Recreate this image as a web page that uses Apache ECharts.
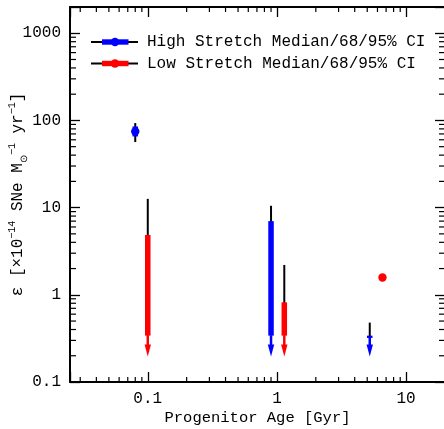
<!DOCTYPE html>
<html><head><meta charset="utf-8">
<script src="https://cdn.jsdelivr.net/npm/echarts@6/dist/echarts.min.js"></script>
<style>html,body{margin:0;padding:0;background:#fff}#c{width:444px;height:429px}</style>
</head><body><div id="c"></div>
<script>
// ---- axis tick labels / tick values ----
const xTickLabels = ['0.1', '1', '10'];
const yTickLabels = ['0.1', '1', '10', '100', '1000'];
const xMinorTicks = [0.03,0.04,0.05,0.06,0.07,0.08,0.09,0.2,0.3,0.4,0.5,0.6,0.7,0.8,0.9,2,3,4,5,6,7,8,9];
const yMinorTicks = [0.2,0.3,0.4,0.5,0.6,0.7,0.8,0.9,2,3,4,5,6,7,8,9,20,30,40,50,60,70,80,90,200,300,400,500,600,700,800,900];
const X_RANGE = [0.025, 20];
const Y_RANGE = [0.1, 2000];

// ---- High stretch (median / 68% / 95% CI; null lower bound = upper limit with arrow) ----
const highAge    = [0.08, 0.9, 5.23];
const highMedian = [74.8, null, null];
const highLo95   = [56.5, null, null];
const highHi95   = [93.3, 10.5, 0.48];
const highLo68   = [65.5, 0.34, 0.32];
const highHi68   = [85.3, 7.0, 0.34];
const highTip    = [null, 0.196, 0.196];

// ---- Low stretch ----
const lowAge    = [0.1, 1.14, 6.56];
const lowMedian = [null, null, 1.58];
const lowLo95   = [null, null, 1.54];
const lowHi95   = [12.6, 2.2, 1.62];
const lowLo68   = [0.34, 0.34, 1.56];
const lowHi68   = [4.85, 0.82, 1.60];
const lowTip    = [0.196, 0.196, null];

const FONT = 'Liberation Mono';
const BLUE = '#0000ff', RED = '#ff0000';

function makeRender(S, color) {
  return function (params, api) {
    const i = params.dataIndex;
    const a = S.age[i];
    const x = api.coord([a, S.hi95[i]])[0];
    const yOf = v => api.coord([a, v])[1];
    const ch = [];
    const bottom95 = S.lo95[i] != null ? S.lo95[i] : S.lo68[i];
    ch.push({type:'line', shape:{x1:x, y1:yOf(S.hi95[i]), x2:x, y2:yOf(bottom95)}, style:{stroke:'#000', lineWidth:2}});
    const y1 = yOf(S.hi68[i]), y2 = yOf(S.lo68[i]);
    ch.push({type:'rect', shape:{x:x-2.75, y:y1, width:5.5, height:Math.max(y2-y1, 2)}, style:{fill:color}});
    if (S.tip[i] != null) {
      const ty = yOf(S.tip[i]);
      const hl = 12;
      ch.push({type:'line', shape:{x1:x, y1:y2, x2:x, y2:ty-hl+1}, style:{stroke:color, lineWidth:2.5}});
      ch.push({type:'polygon', shape:{points:[[x-3.2, ty-hl],[x+3.2, ty-hl],[x, ty]]}, style:{fill:color}});
    }
    if (S.median[i] != null) {
      ch.push({type:'circle', shape:{cx:x, cy:yOf(S.median[i]), r:4.2}, style:{fill:color}});
    }
    return {type:'group', children: ch};
  };
}

const high = {age:highAge, median:highMedian, lo95:highLo95, hi95:highHi95, lo68:highLo68, hi68:highHi68, tip:highTip};
const low  = {age:lowAge, median:lowMedian, lo95:lowLo95, hi95:lowHi95, lo68:lowLo68, hi68:lowHi68, tip:lowTip};

function labelFor(list) {
  return function (v) {
    for (const s of list) {
      if (Math.abs(Math.log10(v) - Math.log10(parseFloat(s))) < 1e-6) return s;
    }
    return '';
  };
}

const axisCommon = {
  type: 'log', logBase: 10,
  axisLine: {show: true, lineStyle: {color: '#000', width: 2}},
  axisTick: {show: true, inside: true, length: 10, lineStyle: {color: '#000', width: 1.3}},
  splitLine: {show: false},
  minorTick: {show: false}
};

const chart = echarts.init(document.getElementById('c'), null, {renderer: 'canvas'});
chart.setOption({
  animation: false,
  backgroundColor: '#fff',
  grid: {left: 70, right: -1, top: 7, bottom: 47, containLabel: false, outerBoundsMode: 'none'},
  xAxis: [
    Object.assign({}, axisCommon, {
      position: 'bottom', min: X_RANGE[0], max: X_RANGE[1],
      axisLabel: {show: true, formatter: labelFor(xTickLabels), color: '#000', fontFamily: FONT, fontSize: 16, margin: 9},
      name: 'Progenitor Age [Gyr]', nameLocation: 'middle', nameGap: 28, nameMoveOverlap: false,
      nameTextStyle: {color: '#000', fontFamily: FONT, fontSize: 15.5}
    }),
    Object.assign({}, axisCommon, {
      position: 'top', min: X_RANGE[0], max: X_RANGE[1],
      axisLabel: {show: false}
    })
  ],
  yAxis: [
    Object.assign({}, axisCommon, {
      position: 'left', min: Y_RANGE[0], max: Y_RANGE[1],
      axisLabel: {show: true, formatter: labelFor(yTickLabels), color: '#000', fontFamily: FONT, fontSize: 16, margin: 9},
      name: '{b|ε [×10}{sup|−14}{b| SNe M}{sub|⊙}{sup|−1}{b| yr}{sup|−1}{b|]}',
      nameLocation: 'middle', nameGap: 41, nameMoveOverlap: false,
      nameTextStyle: {
        color: '#000', fontFamily: FONT, fontSize: 16,
        rich: {
          b: {fontFamily: FONT, fontSize: 16, color: '#000', lineHeight: 22, verticalAlign: 'middle'},
          sup: {fontFamily: FONT, fontSize: 10, color: '#000', lineHeight: 22, verticalAlign: 'top'},
          sub: {fontFamily: FONT, fontSize: 10, color: '#000', lineHeight: 22, verticalAlign: 'bottom'}
        }
      }
    }),
    Object.assign({}, axisCommon, {
      position: 'right', min: Y_RANGE[0], max: Y_RANGE[1],
      axisLabel: {show: false}
    })
  ],
  series: [
    {
      type: 'custom', xAxisIndex: 0, yAxisIndex: 0, clip: false, z: 1,
      data: xMinorTicks.map(v => [v, Y_RANGE[0]]),
      renderItem: function (params, api) {
        const v = xMinorTicks[params.dataIndex];
        const b = api.coord([v, Y_RANGE[0]]), t = api.coord([v, Y_RANGE[1]]);
        return {type: 'group', children: [
          {type:'line', shape:{x1:b[0], y1:b[1], x2:b[0], y2:b[1]-5}, style:{stroke:'#000', lineWidth:1.2}},
          {type:'line', shape:{x1:t[0], y1:t[1], x2:t[0], y2:t[1]+5}, style:{stroke:'#000', lineWidth:1.2}}
        ]};
      }
    },
    {
      type: 'custom', xAxisIndex: 0, yAxisIndex: 0, clip: false, z: 1,
      data: yMinorTicks.map(v => [X_RANGE[0], v]),
      renderItem: function (params, api) {
        const v = yMinorTicks[params.dataIndex];
        const l = api.coord([X_RANGE[0], v]), r = api.coord([X_RANGE[1], v]);
        return {type: 'group', children: [
          {type:'line', shape:{x1:l[0], y1:l[1], x2:l[0]+6, y2:l[1]}, style:{stroke:'#000', lineWidth:1.2}},
          {type:'line', shape:{x1:r[0], y1:r[1], x2:r[0]-6, y2:r[1]}, style:{stroke:'#000', lineWidth:1.2}}
        ]};
      }
    },
    {
      name: 'High Stretch', type: 'custom', xAxisIndex: 0, yAxisIndex: 0, clip: false, z: 3,
      data: highAge.map((a, i) => [a, highHi95[i]]),
      renderItem: makeRender(high, BLUE)
    },
    {
      name: 'Low Stretch', type: 'custom', xAxisIndex: 0, yAxisIndex: 0, clip: false, z: 3,
      data: lowAge.map((a, i) => [a, lowHi95[i]]),
      renderItem: makeRender(low, RED)
    }
  ],
  graphic: [
    {type:'line', shape:{x1:91, y1:42, x2:138, y2:42}, style:{stroke:'#000', lineWidth:2}},
    {type:'rect', shape:{x:102, y:39.3, width:26.5, height:5.4}, style:{fill:BLUE}},
    {type:'circle', shape:{cx:115, cy:42, r:4.2}, style:{fill:BLUE}},
    {type:'text', left: 147, top: 34, style:{text:'High Stretch Median/68/95% CI', fill:'#000', font:'16px "Liberation Mono"'}},
    {type:'line', shape:{x1:91, y1:63.5, x2:138, y2:63.5}, style:{stroke:'#000', lineWidth:2}},
    {type:'rect', shape:{x:102, y:60.8, width:26.5, height:5.4}, style:{fill:RED}},
    {type:'circle', shape:{cx:115, cy:63.5, r:4.2}, style:{fill:RED}},
    {type:'text', left: 147, top: 55.5, style:{text:'Low Stretch Median/68/95% CI', fill:'#000', font:'16px "Liberation Mono"'}}
  ]
});
</script>
</body></html>
